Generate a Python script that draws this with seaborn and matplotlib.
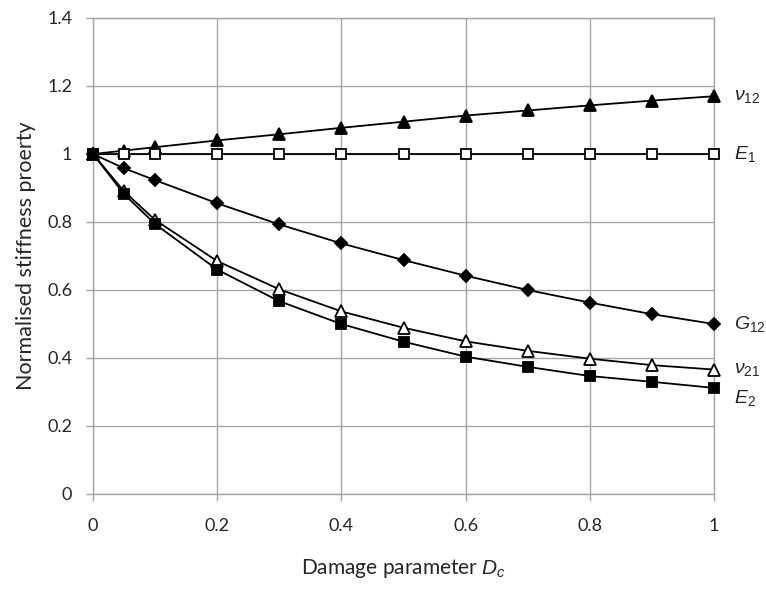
import matplotlib
matplotlib.use("Agg")
import matplotlib.pyplot as plt
import seaborn as sns
import numpy as np

D = [0, 0.05, 0.1, 0.2, 0.3, 0.4, 0.5, 0.6, 0.7, 0.8, 0.9, 1.0]
nu12 = [1.0, 1.01, 1.02, 1.04, 1.058, 1.077, 1.095, 1.113, 1.128, 1.143, 1.157, 1.17]
E1 = [1.0] * 12
G12 = [1.0, 0.958, 0.923, 0.855, 0.793, 0.737, 0.688, 0.642, 0.600, 0.563, 0.529, 0.5]
nu21 = [1.0, 0.89, 0.806, 0.685, 0.602, 0.537, 0.489, 0.449, 0.421, 0.398, 0.379, 0.366]
E2 = [1.0, 0.882, 0.794, 0.66, 0.567, 0.5, 0.448, 0.404, 0.374, 0.347, 0.33, 0.312]

x_ticks = [0, 0.2, 0.4, 0.6, 0.8, 1.0]
x_ticklabels = ["0", "0.2", "0.4", "0.6", "0.8", "1"]
y_ticks = [0, 0.2, 0.4, 0.6, 0.8, 1.0, 1.2, 1.4]
y_ticklabels = ["0", "0.2", "0.4", "0.6", "0.8", "1", "1.2", "1.4"]

sns.set_theme(style="white")
plt.rcParams['font.family'] = ['Lato', 'DejaVu Sans']
plt.rcParams['mathtext.fontset'] = 'custom'
plt.rcParams['mathtext.it'] = 'Liberation Sans:italic'
plt.rcParams['mathtext.rm'] = 'Liberation Sans'

fig = plt.figure(figsize=(7.66, 5.90), dpi=100)
ax = fig.add_axes([93/766, 1-494/590, (714-93)/766, (494-18)/590])

grid_c = "#a6a6a6"
txt_c = "#262626"
series = [
    (nu12, "^", "black", 8.5, r"$\nu_{12}$", 0.0),
    (E1, "s", "white", 7.5, r"$E_1$", 0.0),
    (G12, "D", "black", 6.0, r"$G_{12}$", 0.0),
    (nu21, "^", "white", 8.5, r"$\nu_{21}$", 0.0),
    (E2, "s", "black", 7.5, r"$E_2$", -0.03),
]
for vals, mk, mfc, ms, lab, off in series:
    sns.lineplot(x=D, y=vals, ax=ax, color="black", linewidth=1.3,
                 marker=mk, markersize=ms, markerfacecolor=mfc,
                 markeredgecolor="black", markeredgewidth=1.3,
                 clip_on=False, zorder=3)
    ax.text(1.033, vals[-1] + off, lab, fontsize=14, va="center", ha="left",
            color=txt_c, clip_on=False)

ax.set_xlim(0, 1)
ax.set_ylim(0, 1.4)
ax.set_xticks(x_ticks)
ax.set_xticklabels(x_ticklabels)
ax.set_yticks(y_ticks)
ax.set_yticklabels(y_ticklabels)
ax.grid(True, color=grid_c, linewidth=1.0)
for s in ax.spines.values():
    s.set_color(grid_c)
    s.set_linewidth(1.0)
ax.tick_params(axis="both", which="major", length=5, width=1.0, color=grid_c,
               labelsize=13, labelcolor=txt_c, direction="out")
ax.tick_params(axis="x", pad=12, bottom=True)
ax.tick_params(axis="y", pad=10, left=True)
ax.set_xlabel(r"Damage parameter $D_c$", fontsize=15, color=txt_c, labelpad=17)
ax.set_ylabel("Normalised stiffness proerty", fontsize=15.5, color=txt_c, labelpad=8)

fig.savefig("out.png", dpi=100)
